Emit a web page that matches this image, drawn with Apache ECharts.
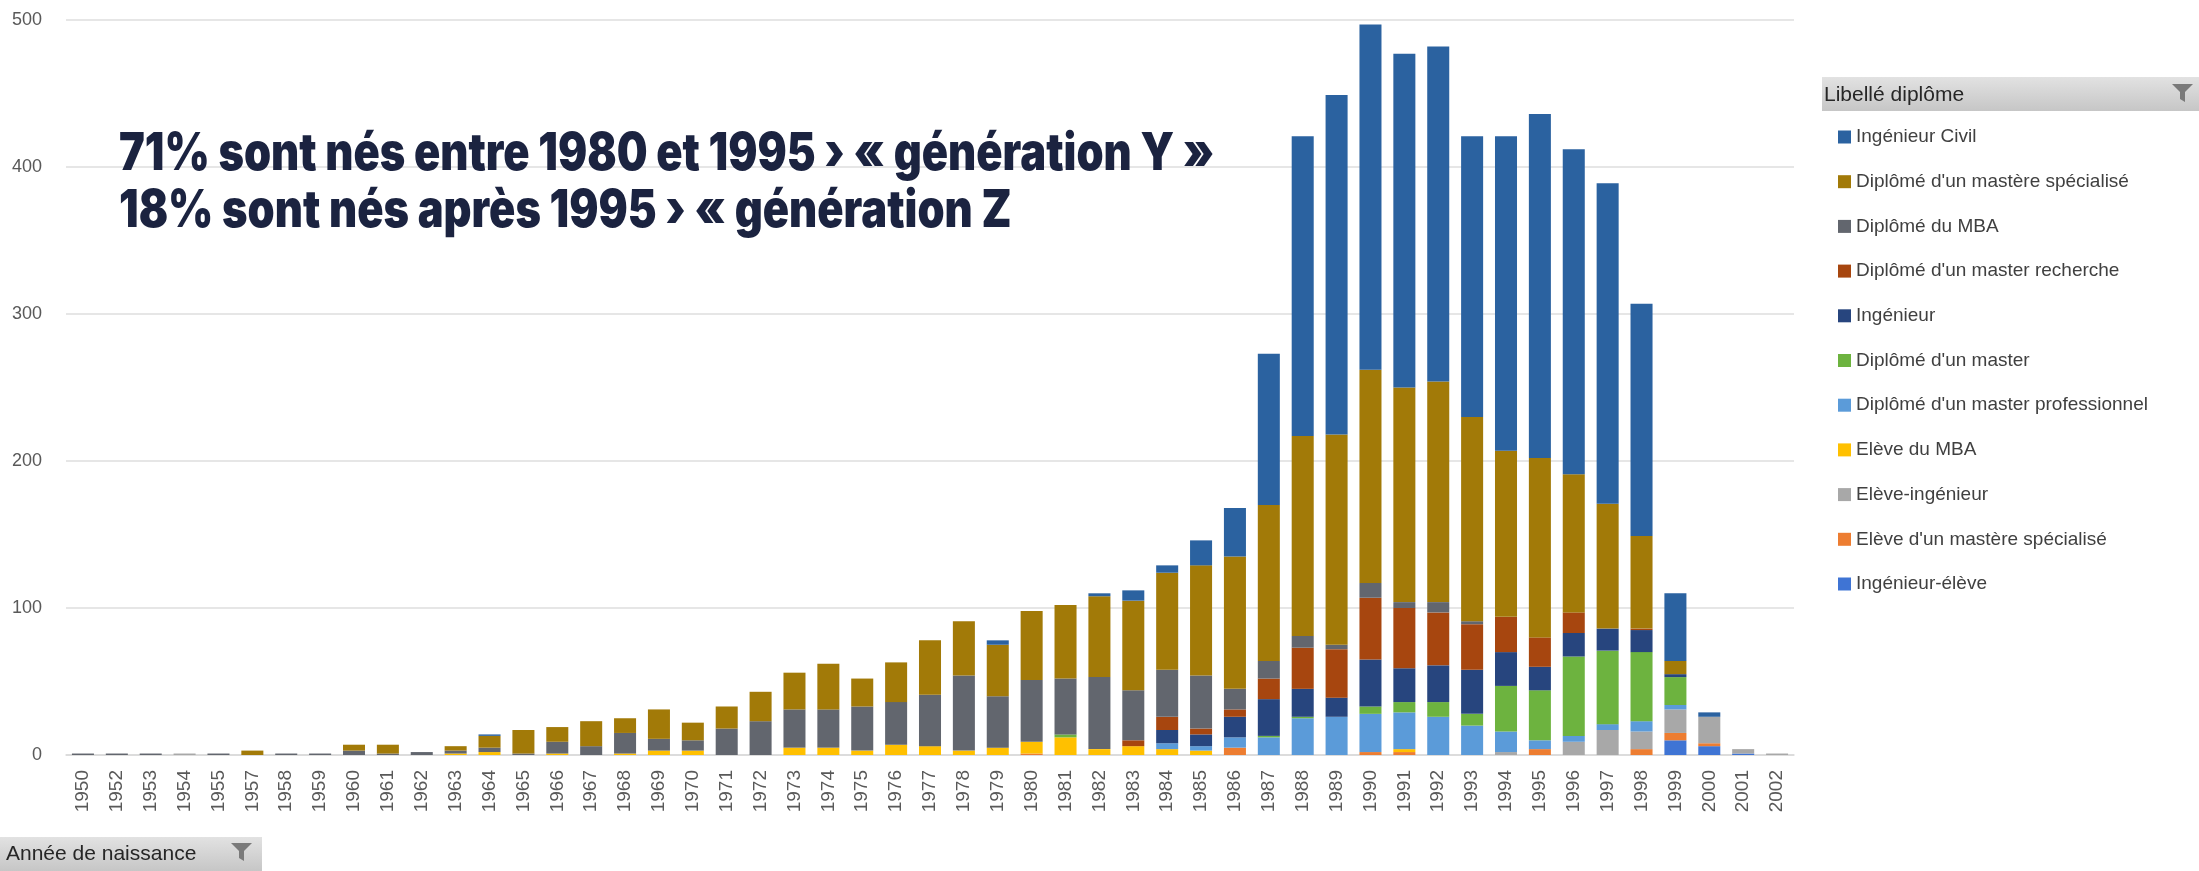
<!DOCTYPE html>
<html lang="fr">
<head>
<meta charset="utf-8">
<title>Année de naissance par diplôme</title>
<script src="https://cdn.jsdelivr.net/npm/echarts@6/dist/echarts.min.js"></script>
<style>
  html, body { margin: 0; padding: 0; background: #fff; }
  #chart { width: 2199px; height: 871px; }
</style>
</head>
<body>
<div id="chart"></div>
<script>
// années de naissance (1951 et 1956 absentes)
var years = ['1950','1952','1953','1954','1955','1957','1958','1959','1960','1961',
  '1962','1963','1964','1965','1966','1967','1968','1969','1970','1971',
  '1972','1973','1974','1975','1976','1977','1978','1979','1980','1981',
  '1982','1983','1984','1985','1986','1987','1988','1989','1990','1991',
  '1992','1993','1994','1995','1996','1997','1998','1999','2000','2001','2002'];

// séries, du bas de la pile vers le haut
var ingEleve = [0,0,0,0,0,0,0,0,0,0, 0,0,0,0,0,0,0,0,0,0, 0,0,0,0,0,0,0,0,0,0,
  0,0,0,0,0,0,0,0,0,0, 0,0,0,0,0,0,0,10,6,1, 0];
var eleveMastere = [0,0,0,0,0,0,0,0,0,0, 0,0,0,0,0,0,0,0,0,0, 0,0,0,0,0,0,0,0,1,0,
  0,0,0,0,5,0,0,0,2,2, 0,0,0,4,0,0,4,5,2,0, 0];
var eleveIng = [0,0,0,1,0,0,0,0,0,0, 0,0,0,0,0,0,0,0,0,0, 0,0,0,0,0,0,0,0,0,0,
  0,0,0,0,0,0,0,0,0,0, 0,0,2,0,9,17,12,16,18,3, 1];
var eleveMba = [0,0,0,0,0,0,0,0,0,0, 0,1,2,0,1,0,1,3,3,0, 0,5,5,3,7,6,3,5,8,12,
  4,6,4,3,0,0,0,0,0,2, 0,0,0,0,0,0,0,0,0,0, 0];
var masterPro = [0,0,0,0,0,0,0,0,0,0, 0,0,0,0,0,0,0,0,0,0, 0,0,0,0,0,0,0,0,0,0,
  0,0,4,3,7,12,25,26,26,25, 26,20,14,6,4,4,7,3,0,0, 0];
var master = [0,0,0,0,0,0,0,0,0,0, 0,0,0,0,0,0,0,0,0,0, 0,0,0,0,0,0,0,0,0,2,
  0,0,0,0,0,1,1,0,5,7, 10,8,31,34,54,50,47,19,0,0, 0];
var ingenieur = [0,0,0,0,0,0,0,0,0,0, 0,0,0,0,0,0,0,0,0,0, 0,0,0,0,0,0,0,0,0,0,
  0,0,9,8,14,25,19,13,32,23, 25,30,23,16,16,15,15,2,0,0, 0];
var masterRech = [0,0,0,0,0,0,0,0,0,0, 0,0,0,0,0,0,0,0,0,0, 0,0,0,0,0,0,0,0,0,0,
  0,4,9,4,5,14,28,33,42,41, 36,31,24,20,14,0,1,0,0,0, 0];
var mba = [1,1,1,0,1,0,1,1,3,1, 2,2,3,1,8,6,14,8,7,18, 23,26,26,30,29,35,51,35,42,38,
  49,34,32,36,14,12,8,3,10,4, 7,2,0,0,0,0,0,0,0,0, 0];
var mastereSpec = [0,0,0,0,0,3,0,0,4,6, 0,3,8,16,10,17,10,20,12,15, 20,25,31,19,27,37,37,35,47,50,
  55,61,66,75,90,106,136,143,145,146, 150,139,113,122,94,85,63,9,0,0, 0];
var ingCivil = [0,0,0,0,0,0,0,0,0,0, 0,0,1,0,0,0,0,0,0,0, 0,0,0,0,0,0,0,3,0,0,
  2,7,5,17,33,103,204,231,235,227, 228,191,214,234,221,218,158,46,3,0, 0];

var yTicks = [0, 100, 200, 300, 400, 500];

var stackNames = ['Ingénieur-élève', "Elève d'un mastère spécialisé", 'Elève-ingénieur', 'Elève du MBA',
  "Diplômé d'un master professionnel", "Diplômé d'un master", 'Ingénieur', "Diplômé d'un master recherche",
  'Diplômé du MBA', "Diplômé d'un mastère spécialisé", 'Ingénieur Civil'];
var stackData = [ingEleve, eleveMastere, eleveIng, eleveMba, masterPro, master, ingenieur, masterRech,
  mba, mastereSpec, ingCivil];
var colors = ['#3F74D4', '#ED7D31', '#A8A8A8', '#FFC000', '#5B9BD9', '#6DB33F', '#27457E', '#A7460F',
  '#62666E', '#A27A08', '#2B62A0'];

var titleLines = ['71% sont nés entre 1980 et 1995 › « génération Y »',
  '18% sont nés après 1995 › « génération Z'];

var series = [];
for (var i = 0; i < stackNames.length; i++) {
  series.push({
    name: stackNames[i],
    type: 'bar',
    stack: 'total',
    barCategoryGap: '35%',
    itemStyle: { color: colors[i] },
    data: stackData[i]
  });
}

function funnel(x, y) {
  return {
    type: 'polygon',
    shape: { points: [[x, y], [x + 21, y], [x + 13, y + 8], [x + 13, y + 18], [x + 8, y + 15], [x + 8, y + 8]] },
    style: { fill: '#7A7A7A' }
  };
}

// titre resserré comme dans l'original (police très grasse, chasse étroite)
function titleLine(txt, y) {
  return {
    type: 'text', x: 119, y: y, scaleX: 0.835, z: 100,
    style: { text: txt, x: 0, y: 0, fill: '#1B2340', font: '900 52px Inter', verticalAlign: 'middle' }
  };
}

var myChart = echarts.init(document.getElementById('chart'));
var option = {
  backgroundColor: '#fff',
  animation: false,
  color: colors,
  grid: { left: 66, right: 405, top: 20, bottom: 116 },
  legend: {
    orient: 'vertical',
    left: 1833,
    top: 122,
    itemWidth: 13,
    itemHeight: 13,
    itemGap: 24.7,
    icon: 'rect',
    data: stackNames.slice().reverse(),
    textStyle: { fontFamily: 'Liberation Sans', fontSize: 19, lineHeight: 20, color: '#404040' }
  },
  xAxis: {
    type: 'category',
    data: years,
    axisTick: { show: false },
    axisLine: { lineStyle: { color: '#D9D9D9', width: 1.5 } },
    axisLabel: { rotate: 90, margin: 15, interval: 0, fontFamily: 'Liberation Sans', fontSize: 19, color: '#595959' }
  },
  yAxis: {
    type: 'value',
    min: yTicks[0],
    max: yTicks[yTicks.length - 1],
    interval: 100,
    axisLabel: { margin: 24, fontFamily: 'Liberation Sans', fontSize: 18, color: '#595959' },
    splitLine: { lineStyle: { color: '#DEDEDE', width: 1.5 } }
  },
  graphic: [
    titleLine(titleLines[0], 154),
    titleLine(titleLines[1], 211),
    // en-tête de légende
    { type: 'rect', shape: { x: 1822, y: 77, width: 377, height: 34 },
      style: { fill: new echarts.graphic.LinearGradient(0, 0, 0, 1, [
        { offset: 0, color: '#E2E2E2' }, { offset: 1, color: '#C6C6C6' }]) } },
    { type: 'text', x: 1824, y: 95,
      style: { text: 'Libellé diplôme', font: '21px Liberation Sans', fill: '#262626', verticalAlign: 'middle' } },
    funnel(2172, 84),
    // bouton de l'axe
    { type: 'rect', shape: { x: 0, y: 837, width: 262, height: 34 },
      style: { fill: new echarts.graphic.LinearGradient(0, 0, 0, 1, [
        { offset: 0, color: '#E2E2E2' }, { offset: 1, color: '#C6C6C6' }]) } },
    { type: 'text', x: 6, y: 854,
      style: { text: 'Année de naissance', font: '21px Liberation Sans', fill: '#262626', verticalAlign: 'middle' } },
    funnel(231, 843)
  ],
  series: series
};
myChart.setOption(option);
</script>
</body>
</html>
